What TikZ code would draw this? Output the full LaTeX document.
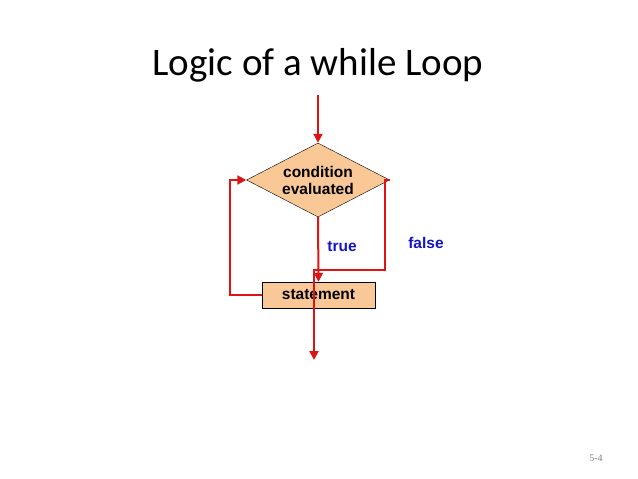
\documentclass[tikz,border=0pt]{standalone}
\usepackage{fontspec}
\setmainfont{Carlito}
\newfontfamily\arialf{Liberation Sans}
\newfontfamily\timesf{Liberation Serif}
\usetikzlibrary{shapes.geometric,arrows.meta}
\definecolor{fillc}{RGB}{250,200,150}
\definecolor{redc}{RGB}{220,20,20}
\definecolor{bluec}{RGB}{20,20,200}
\tikzset{x=1pt,y=-1pt,
  flow/.style={draw=redc,line width=2pt,-{Triangle[length=9pt,width=9pt]}},
  lbl/.style={font=\arialf\bfseries\fontsize{15.5}{17}\selectfont}}
\begin{document}
\begin{tikzpicture}
\useasboundingbox (0,0) rectangle (638,479);
\node[font=\fontsize{39}{44}\selectfont] (title) at (318,65) {Logic of a while Loop};
\node[diamond,draw,fill=fillc,aspect=1.93,minimum width=143pt,minimum height=74pt,inner sep=0pt,align=center,lbl] (cond) at (318,180) {condition\\evaluated};
\node[draw,fill=fillc,minimum width=113pt,minimum height=26pt,inner sep=0pt,lbl] (stmt) at (318.5,295) {statement};
\coordinate (top) at (318,95);
\coordinate (fr) at (385,270);
\coordinate (fl) at (314,270);
\coordinate (out) at (314,360);
\coordinate (lb) at (230,295);
\coordinate (lt) at (230,180);
\draw[flow] (top) -- (cond.north);
\draw[flow] (cond.south) -- (stmt.north);
\draw[flow] (cond.east) -- (385,180) -- (fr) -- (fl) -- (out);
\draw[flow] (stmt.west) -- (lb) -- (lt) -- (cond.west);
\node[lbl,text=bluec] (t) at (342,247) {true};
\node[lbl,text=bluec] (f) at (426,243) {false};
\node[font=\timesf\fontsize{10}{11}\selectfont,text=gray] (pg) at (596,458) {5-4};
\end{tikzpicture}
\end{document}
